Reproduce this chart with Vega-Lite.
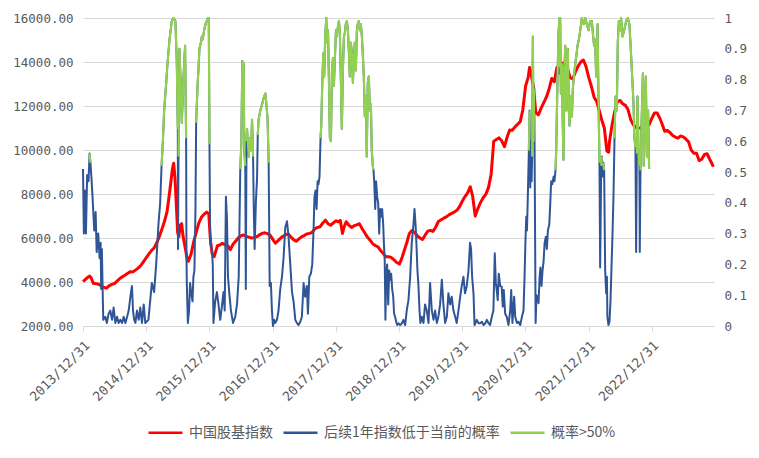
{
"$schema":"https://vega.github.io/schema/vega-lite/v6.json",
"width":631,"height":308,
"autosize":{"type":"none"},
"padding":{"left":83,"top":18,"right":45,"bottom":132},
"background":"white",
"config":{"view":{"stroke":null},"font":"DejaVu Sans"},
"datasets":{
"idx":[
{"d":"2013-12-31","v":4016},{"d":"2014-01-16","v":4130},{"d":"2014-02-01","v":4240},{"d":"2014-02-08","v":4270},{"d":"2014-02-16","v":4190},{"d":"2014-03-01","v":3940},{"d":"2014-03-16","v":3925},{"d":"2014-04-01","v":3900},{"d":"2014-04-16","v":3820},{"d":"2014-05-01","v":3750},{"d":"2014-05-16","v":3720},{"d":"2014-06-01","v":3835},{"d":"2014-06-16","v":3890},{"d":"2014-07-01","v":3930},{"d":"2014-07-16","v":4040},{"d":"2014-08-01","v":4160},{"d":"2014-08-16","v":4240},{"d":"2014-09-01","v":4320},{"d":"2014-09-16","v":4400},{"d":"2014-10-01","v":4470},{"d":"2014-10-16","v":4460},{"d":"2014-11-01","v":4550},{"d":"2014-11-16","v":4640},{"d":"2014-12-01","v":4760},{"d":"2014-12-16","v":4930},
{"d":"2015-01-01","v":5110},{"d":"2015-01-16","v":5280},{"d":"2015-02-01","v":5440},{"d":"2015-02-16","v":5560},{"d":"2015-03-01","v":5760},{"d":"2015-03-16","v":6040},{"d":"2015-04-01","v":6400},{"d":"2015-04-16","v":6760},{"d":"2015-05-01","v":7210},{"d":"2015-05-16","v":8100},{"d":"2015-06-01","v":9150},{"d":"2015-06-08","v":9400},{"d":"2015-06-16","v":8700},{"d":"2015-06-24","v":7400},{"d":"2015-07-01","v":6250},{"d":"2015-07-08","v":6050},{"d":"2015-07-16","v":6580},{"d":"2015-07-24","v":6650},{"d":"2015-08-01","v":6100},{"d":"2015-08-16","v":5450},{"d":"2015-08-26","v":5000},{"d":"2015-09-01","v":4950},{"d":"2015-09-16","v":5250},{"d":"2015-10-01","v":5800},{"d":"2015-10-16","v":6250},{"d":"2015-11-01","v":6700},{"d":"2015-11-16","v":6950},{"d":"2015-12-01","v":7080},{"d":"2015-12-16","v":7180},{"d":"2015-12-28","v":7100},
{"d":"2016-01-04","v":6200},{"d":"2016-01-08","v":5800},{"d":"2016-01-16","v":5300},{"d":"2016-01-28","v":5150},{"d":"2016-02-16","v":5650},{"d":"2016-03-01","v":5680},{"d":"2016-03-16","v":5760},{"d":"2016-04-01","v":5680},{"d":"2016-04-16","v":5650},{"d":"2016-05-01","v":5470},{"d":"2016-05-16","v":5720},{"d":"2016-06-01","v":5860},{"d":"2016-06-16","v":6010},{"d":"2016-07-01","v":6100},{"d":"2016-07-16","v":6135},{"d":"2016-08-01","v":6070},{"d":"2016-08-16","v":6040},{"d":"2016-09-01","v":5995},{"d":"2016-09-16","v":6020},{"d":"2016-10-01","v":6060},{"d":"2016-10-16","v":6145},{"d":"2016-11-01","v":6210},{"d":"2016-11-16","v":6235},{"d":"2016-12-01","v":6200},{"d":"2016-12-16","v":6130},
{"d":"2017-01-01","v":5940},{"d":"2017-01-16","v":5760},{"d":"2017-02-01","v":5880},{"d":"2017-02-16","v":6000},{"d":"2017-03-01","v":6080},{"d":"2017-03-16","v":6150},{"d":"2017-04-01","v":6180},{"d":"2017-04-16","v":6040},{"d":"2017-05-01","v":5925},{"d":"2017-05-16","v":5850},{"d":"2017-06-01","v":5960},{"d":"2017-06-16","v":6050},{"d":"2017-07-01","v":6110},{"d":"2017-07-16","v":6180},{"d":"2017-08-01","v":6210},{"d":"2017-08-16","v":6250},{"d":"2017-09-01","v":6420},{"d":"2017-09-16","v":6480},{"d":"2017-10-01","v":6510},{"d":"2017-10-16","v":6670},{"d":"2017-11-01","v":6810},{"d":"2017-11-16","v":6650},{"d":"2017-12-01","v":6580},{"d":"2017-12-16","v":6680},
{"d":"2018-01-01","v":6780},{"d":"2018-01-16","v":6740},{"d":"2018-01-26","v":6800},{"d":"2018-02-08","v":6210},{"d":"2018-02-16","v":6480},{"d":"2018-03-01","v":6740},{"d":"2018-03-16","v":6590},{"d":"2018-04-01","v":6480},{"d":"2018-04-16","v":6555},{"d":"2018-05-01","v":6595},{"d":"2018-05-16","v":6650},{"d":"2018-06-01","v":6430},{"d":"2018-06-16","v":6240},{"d":"2018-07-01","v":6050},{"d":"2018-07-16","v":5910},{"d":"2018-08-01","v":5740},{"d":"2018-08-16","v":5660},{"d":"2018-09-01","v":5600},{"d":"2018-09-16","v":5430},{"d":"2018-10-01","v":5300},{"d":"2018-10-16","v":5150},{"d":"2018-11-01","v":5150},{"d":"2018-11-16","v":5120},{"d":"2018-12-01","v":5020},{"d":"2018-12-16","v":4900},
{"d":"2019-01-03","v":4820},{"d":"2019-01-16","v":5060},{"d":"2019-02-01","v":5460},{"d":"2019-02-16","v":5830},{"d":"2019-03-01","v":6200},{"d":"2019-03-16","v":6340},{"d":"2019-04-01","v":6250},{"d":"2019-04-16","v":6100},{"d":"2019-05-01","v":6000},{"d":"2019-05-16","v":5930},{"d":"2019-06-01","v":6140},{"d":"2019-06-16","v":6310},{"d":"2019-07-01","v":6350},{"d":"2019-07-16","v":6300},{"d":"2019-08-01","v":6500},{"d":"2019-08-16","v":6750},{"d":"2019-09-01","v":6830},{"d":"2019-09-16","v":6900},{"d":"2019-10-01","v":6960},{"d":"2019-10-16","v":7050},{"d":"2019-11-01","v":7120},{"d":"2019-11-16","v":7180},{"d":"2019-12-01","v":7260},{"d":"2019-12-16","v":7420},
{"d":"2020-01-01","v":7670},{"d":"2020-01-16","v":7870},{"d":"2020-02-01","v":8050},{"d":"2020-02-16","v":8330},{"d":"2020-03-01","v":7900},{"d":"2020-03-16","v":7000},{"d":"2020-04-01","v":7350},{"d":"2020-04-16","v":7620},{"d":"2020-05-01","v":7830},{"d":"2020-05-16","v":7980},{"d":"2020-06-01","v":8300},{"d":"2020-06-16","v":8900},{"d":"2020-07-01","v":10400},{"d":"2020-07-16","v":10480},{"d":"2020-08-01","v":10550},{"d":"2020-08-16","v":10420},{"d":"2020-09-01","v":10150},{"d":"2020-09-16","v":10580},{"d":"2020-10-01","v":10910},{"d":"2020-10-16","v":10900},{"d":"2020-11-01","v":11050},{"d":"2020-11-16","v":11170},{"d":"2020-12-01","v":11290},{"d":"2020-12-16","v":11820},
{"d":"2021-01-01","v":12900},{"d":"2021-01-16","v":13300},{"d":"2021-01-24","v":13750},{"d":"2021-02-01","v":13500},{"d":"2021-02-16","v":12850},{"d":"2021-03-01","v":11700},{"d":"2021-03-16","v":11600},{"d":"2021-04-01","v":11900},{"d":"2021-04-16","v":12150},{"d":"2021-05-01","v":12400},{"d":"2021-05-16","v":12750},{"d":"2021-06-01","v":13250},{"d":"2021-06-16","v":13100},{"d":"2021-07-01","v":13750},{"d":"2021-07-16","v":13500},{"d":"2021-08-01","v":13940},{"d":"2021-08-16","v":13940},{"d":"2021-09-01","v":13660},{"d":"2021-09-16","v":13280},{"d":"2021-10-01","v":13240},{"d":"2021-10-16","v":13550},{"d":"2021-11-01","v":13820},{"d":"2021-11-16","v":14000},{"d":"2021-12-01","v":14090},{"d":"2021-12-16","v":13800},
{"d":"2022-01-01","v":13300},{"d":"2022-01-16","v":12900},{"d":"2022-02-01","v":12400},{"d":"2022-02-16","v":12200},{"d":"2022-03-01","v":11850},{"d":"2022-03-16","v":11400},{"d":"2022-04-01","v":11000},{"d":"2022-04-16","v":9950},{"d":"2022-04-26","v":9900},{"d":"2022-05-01","v":10380},{"d":"2022-05-16","v":11150},{"d":"2022-06-01","v":11780},{"d":"2022-06-16","v":12200},{"d":"2022-07-01","v":12250},{"d":"2022-07-16","v":12100},{"d":"2022-08-01","v":12030},{"d":"2022-08-16","v":11840},{"d":"2022-09-01","v":11370},{"d":"2022-09-16","v":11140},{"d":"2022-10-01","v":11020},{"d":"2022-10-16","v":11000},{"d":"2022-11-01","v":11000},{"d":"2022-11-16","v":10930},{"d":"2022-12-01","v":11050},{"d":"2022-12-16","v":11150},
{"d":"2023-01-01","v":11450},{"d":"2023-01-16","v":11680},{"d":"2023-02-01","v":11680},{"d":"2023-02-16","v":11440},{"d":"2023-03-01","v":11180},{"d":"2023-03-16","v":10850},{"d":"2023-04-01","v":10890},{"d":"2023-04-16","v":10790},{"d":"2023-05-01","v":10660},{"d":"2023-05-16","v":10590},{"d":"2023-06-01","v":10540},{"d":"2023-06-16","v":10640},{"d":"2023-07-01","v":10600},{"d":"2023-07-16","v":10500},{"d":"2023-08-01","v":10370},{"d":"2023-08-16","v":10000},{"d":"2023-09-01","v":9850},{"d":"2023-09-16","v":9850},{"d":"2023-10-01","v":9520},{"d":"2023-10-16","v":9580},{"d":"2023-11-01","v":9800},{"d":"2023-11-16","v":9830},{"d":"2023-12-01","v":9580},{"d":"2023-12-16","v":9350},{"d":"2023-12-22","v":9240}
],
"prob":[
{"d":"2013-12-31","p":0.51,"g":0.51},{"d":"2014-01-05","p":0.30},{"d":"2014-01-11","p":0.44},{"d":"2014-01-17","p":0.30},{"d":"2014-01-24","p":0.49},{"d":"2014-02-01","p":0.47},{"d":"2014-02-07","p":0.56,"g":0.56},{"d":"2014-02-12","p":0.53,"g":0.53},{"d":"2014-02-18","p":0.48},{"d":"2014-02-24","p":0.42},{"d":"2014-03-06","p":0.31},{"d":"2014-03-14","p":0.37},{"d":"2014-03-20","p":0.24},{"d":"2014-03-29","p":0.30},{"d":"2014-04-06","p":0.22},{"d":"2014-04-12","p":0.27},{"d":"2014-04-15","p":0.12},{"d":"2014-04-19","p":0.25},{"d":"2014-04-27","p":0.02},{"d":"2014-05-09","p":0.03},{"d":"2014-05-18","p":0.01},{"d":"2014-05-28","p":0.04},{"d":"2014-06-07","p":0.05},{"d":"2014-06-17","p":0.02},{"d":"2014-06-26","p":0.06},{"d":"2014-07-06","p":0.01},{"d":"2014-07-16","p":0.03},{"d":"2014-07-25","p":0.01},{"d":"2014-08-04","p":0.02},{"d":"2014-08-14","p":0.01},{"d":"2014-08-23","p":0.03},{"d":"2014-09-02","p":0.01},{"d":"2014-09-12","p":0.03},{"d":"2014-09-21","p":0.05},{"d":"2014-10-01","p":0.095},{"d":"2014-10-10","p":0.13},{"d":"2014-10-16","p":0.05},{"d":"2014-10-23","p":0.02},{"d":"2014-10-30","p":0.01},{"d":"2014-11-08","p":0.05},{"d":"2014-11-18","p":0.02},{"d":"2014-11-27","p":0.06},{"d":"2014-12-07","p":0.01},{"d":"2014-12-17","p":0.07},{"d":"2014-12-26","p":0.01},
{"d":"2015-01-13","p":0.02},{"d":"2015-01-23","p":0.08},{"d":"2015-02-02","p":0.14},{"d":"2015-02-15","p":0.11},{"d":"2015-02-27","p":0.20},{"d":"2015-03-12","p":0.33},{"d":"2015-03-22","p":0.40},{"d":"2015-03-30","p":0.52,"g":0.52},{"d":"2015-04-06","p":0.59,"g":0.59},{"d":"2015-04-14","p":0.70,"g":0.70},{"d":"2015-04-26","p":0.79,"g":0.79},{"d":"2015-05-03","p":0.85,"g":0.85},{"d":"2015-05-15","p":0.93,"g":0.93},{"d":"2015-05-28","p":0.99,"g":0.99},{"d":"2015-06-07","p":1.0,"g":1.0},{"d":"2015-06-18","p":0.99,"g":0.99},{"d":"2015-06-26","p":0.86,"g":0.86},{"d":"2015-07-02","p":0.64,"g":0.64},{"d":"2015-07-03","p":0.25},{"d":"2015-07-06","p":0.55,"g":0.55},{"d":"2015-07-12","p":0.90,"g":0.90},{"d":"2015-07-25","p":0.66,"g":0.66},{"d":"2015-08-04","p":0.81,"g":0.81},{"d":"2015-08-13","p":0.91,"g":0.91},{"d":"2015-08-19","p":0.61,"g":0.61},{"d":"2015-08-21","p":0.23},{"d":"2015-08-23","p":0.14},{"d":"2015-08-29","p":0.01},{"d":"2015-09-05","p":0.05},{"d":"2015-09-11","p":0.14},{"d":"2015-09-17","p":0.11},{"d":"2015-09-25","p":0.08},{"d":"2015-09-30","p":0.16},{"d":"2015-10-06","p":0.18},{"d":"2015-10-12","p":0.38},{"d":"2015-10-16","p":0.66,"g":0.66},{"d":"2015-10-24","p":0.78,"g":0.78},{"d":"2015-10-29","p":0.83,"g":0.83},{"d":"2015-11-04","p":0.90,"g":0.90},{"d":"2015-11-12","p":0.92,"g":0.92},{"d":"2015-11-18","p":0.94,"g":0.94},{"d":"2015-11-23","p":0.93,"g":0.93},{"d":"2015-12-01","p":0.96,"g":0.96},{"d":"2015-12-09","p":0.98,"g":0.98},{"d":"2015-12-16","p":0.99,"g":0.99},{"d":"2015-12-24","p":1.0,"g":1.0},{"d":"2015-12-28","p":1.0,"g":1.0},
{"d":"2016-01-01","p":0.59,"g":0.59},{"d":"2016-01-05","p":0.27},{"d":"2016-01-14","p":0.25},{"d":"2016-01-20","p":0.20},{"d":"2016-01-24","p":0.01},{"d":"2016-02-03","p":0.08},{"d":"2016-02-13","p":0.11},{"d":"2016-02-22","p":0.07},{"d":"2016-03-03","p":0.02},{"d":"2016-03-12","p":0.06},{"d":"2016-03-22","p":0.11},{"d":"2016-03-29","p":0.05},{"d":"2016-04-05","p":0.42},{"d":"2016-04-11","p":0.35},{"d":"2016-04-17","p":0.16},{"d":"2016-04-24","p":0.11},{"d":"2016-05-04","p":0.05},{"d":"2016-05-16","p":0.01},{"d":"2016-05-29","p":0.03},{"d":"2016-06-08","p":0.07},{"d":"2016-06-18","p":0.16},{"d":"2016-06-23","p":0.35},{"d":"2016-06-27","p":0.51,"g":0.51},{"d":"2016-07-03","p":0.59,"g":0.59},{"d":"2016-07-09","p":0.86,"g":0.86},{"d":"2016-07-17","p":0.85,"g":0.85},{"d":"2016-07-20","p":0.57,"g":0.57},{"d":"2016-07-26","p":0.52,"g":0.52},{"d":"2016-07-29","p":0.12},{"d":"2016-08-02","p":0.60,"g":0.60},{"d":"2016-08-05","p":0.64,"g":0.64},{"d":"2016-08-15","p":0.55,"g":0.55},{"d":"2016-08-20","p":0.61,"g":0.61},{"d":"2016-08-28","p":0.57,"g":0.57},{"d":"2016-09-03","p":0.67,"g":0.67},{"d":"2016-09-09","p":0.55,"g":0.55},{"d":"2016-09-13","p":0.38},{"d":"2016-09-18","p":0.25},{"d":"2016-09-25","p":0.40},{"d":"2016-10-02","p":0.48},{"d":"2016-10-06","p":0.62,"g":0.62},{"d":"2016-10-11","p":0.67,"g":0.67},{"d":"2016-10-21","p":0.70,"g":0.70},{"d":"2016-10-31","p":0.72,"g":0.72},{"d":"2016-11-09","p":0.74,"g":0.74},{"d":"2016-11-19","p":0.755,"g":0.755},{"d":"2016-11-25","p":0.72,"g":0.72},{"d":"2016-12-02","p":0.67,"g":0.67},{"d":"2016-12-08","p":0.53,"g":0.53},{"d":"2016-12-14","p":0.13},{"d":"2016-12-21","p":0.14},{"d":"2016-12-27","p":0.05},
{"d":"2017-01-02","p":0.0},{"d":"2017-01-09","p":0.02},{"d":"2017-01-15","p":0.01},{"d":"2017-01-25","p":0.02},{"d":"2017-02-03","p":0.05},{"d":"2017-02-13","p":0.12},{"d":"2017-02-23","p":0.16},{"d":"2017-03-04","p":0.22},{"d":"2017-03-14","p":0.32},{"d":"2017-03-24","p":0.34},{"d":"2017-04-02","p":0.29},{"d":"2017-04-12","p":0.20},{"d":"2017-04-22","p":0.11},{"d":"2017-05-01","p":0.08},{"d":"2017-05-11","p":0.02},{"d":"2017-05-20","p":0.01},{"d":"2017-05-30","p":0.003},{"d":"2017-06-09","p":0.014},{"d":"2017-06-18","p":0.03},{"d":"2017-06-28","p":0.14},{"d":"2017-07-07","p":0.095},{"d":"2017-07-17","p":0.13},{"d":"2017-07-23","p":0.04},{"d":"2017-07-31","p":0.16},{"d":"2017-08-09","p":0.17},{"d":"2017-08-17","p":0.20},{"d":"2017-08-25","p":0.32},{"d":"2017-08-30","p":0.42},{"d":"2017-09-05","p":0.44},{"d":"2017-09-11","p":0.38},{"d":"2017-09-17","p":0.47},{"d":"2017-09-22","p":0.46},{"d":"2017-09-28","p":0.485},{"d":"2017-10-04","p":0.61,"g":0.61},{"d":"2017-10-08","p":0.65,"g":0.65},{"d":"2017-10-14","p":0.79,"g":0.79},{"d":"2017-10-20","p":0.885,"g":0.885},{"d":"2017-10-25","p":0.81,"g":0.81},{"d":"2017-10-31","p":0.94,"g":0.94},{"d":"2017-11-06","p":1.0,"g":1.0},{"d":"2017-11-10","p":0.92,"g":0.92},{"d":"2017-11-16","p":0.96,"g":0.96},{"d":"2017-11-21","p":0.81,"g":0.81},{"d":"2017-11-27","p":0.61,"g":0.61},{"d":"2017-12-03","p":0.60,"g":0.60},{"d":"2017-12-09","p":0.83,"g":0.83},{"d":"2017-12-15","p":0.87,"g":0.87},{"d":"2017-12-20","p":0.78,"g":0.78},{"d":"2017-12-26","p":0.87,"g":0.87},
{"d":"2018-01-01","p":0.96,"g":0.96},{"d":"2018-01-06","p":0.94,"g":0.94},{"d":"2018-01-12","p":0.97,"g":0.97},{"d":"2018-01-18","p":0.99,"g":0.99},{"d":"2018-01-23","p":0.96,"g":0.96},{"d":"2018-01-29","p":0.81,"g":0.81},{"d":"2018-02-04","p":0.64,"g":0.64},{"d":"2018-02-10","p":0.83,"g":0.83},{"d":"2018-02-16","p":0.94,"g":0.94},{"d":"2018-02-21","p":0.95,"g":0.95},{"d":"2018-02-27","p":0.98,"g":0.98},{"d":"2018-03-05","p":0.99,"g":0.99},{"d":"2018-03-11","p":0.96,"g":0.96},{"d":"2018-03-16","p":0.90,"g":0.90},{"d":"2018-03-22","p":0.81,"g":0.81},{"d":"2018-03-28","p":0.92,"g":0.92},{"d":"2018-04-03","p":0.885,"g":0.885},{"d":"2018-04-09","p":0.79,"g":0.79},{"d":"2018-04-14","p":0.86,"g":0.86},{"d":"2018-04-20","p":0.92,"g":0.92},{"d":"2018-04-26","p":0.83,"g":0.83},{"d":"2018-05-02","p":0.96,"g":0.96},{"d":"2018-05-07","p":0.98,"g":0.98},{"d":"2018-05-13","p":0.99,"g":0.99},{"d":"2018-05-19","p":0.96,"g":0.96},{"d":"2018-05-25","p":0.98,"g":0.98},{"d":"2018-05-31","p":0.94,"g":0.94},{"d":"2018-06-05","p":0.885,"g":0.885},{"d":"2018-06-11","p":0.81,"g":0.81},{"d":"2018-06-17","p":0.68,"g":0.68},{"d":"2018-06-23","p":0.745,"g":0.745},{"d":"2018-06-28","p":0.55,"g":0.55},{"d":"2018-07-04","p":0.79,"g":0.79},{"d":"2018-07-10","p":0.81,"g":0.81},{"d":"2018-07-16","p":0.70,"g":0.70},{"d":"2018-07-22","p":0.72,"g":0.72},{"d":"2018-07-27","p":0.57,"g":0.57},{"d":"2018-08-02","p":0.52,"g":0.52},{"d":"2018-08-06","p":0.506,"g":0.506},{"d":"2018-08-10","p":0.47},{"d":"2018-08-16","p":0.38},{"d":"2018-08-21","p":0.47},{"d":"2018-08-27","p":0.42},{"d":"2018-09-02","p":0.40},{"d":"2018-09-08","p":0.30},{"d":"2018-09-13","p":0.38},{"d":"2018-09-19","p":0.355},{"d":"2018-09-25","p":0.38},{"d":"2018-10-01","p":0.33},{"d":"2018-10-05","p":0.27},{"d":"2018-10-10","p":0.21},{"d":"2018-10-14","p":0.02},{"d":"2018-10-18","p":0.16},{"d":"2018-10-24","p":0.20},{"d":"2018-10-30","p":0.07},{"d":"2018-11-05","p":0.18},{"d":"2018-11-10","p":0.15},{"d":"2018-11-16","p":0.17},{"d":"2018-11-22","p":0.12},{"d":"2018-11-28","p":0.095},{"d":"2018-12-03","p":0.04},{"d":"2018-12-09","p":0.03},{"d":"2018-12-15","p":0.014},{"d":"2018-12-21","p":0.003},{"d":"2018-12-28","p":0.009},
{"d":"2019-01-07","p":0.003},{"d":"2019-01-17","p":0.009},{"d":"2019-01-26","p":0.02},{"d":"2019-02-05","p":0.003},{"d":"2019-02-14","p":0.05},{"d":"2019-02-24","p":0.084},{"d":"2019-03-06","p":0.16},{"d":"2019-03-15","p":0.27},{"d":"2019-03-25","p":0.33},{"d":"2019-03-31","p":0.38},{"d":"2019-04-06","p":0.33},{"d":"2019-04-11","p":0.27},{"d":"2019-04-17","p":0.18},{"d":"2019-04-23","p":0.13},{"d":"2019-04-29","p":0.05},{"d":"2019-05-04","p":0.01},{"d":"2019-05-12","p":0.03},{"d":"2019-05-22","p":0.01},{"d":"2019-05-31","p":0.07},{"d":"2019-06-10","p":0.05},{"d":"2019-06-20","p":0.01},{"d":"2019-06-29","p":0.14},{"d":"2019-07-09","p":0.05},{"d":"2019-07-19","p":0.02},{"d":"2019-07-28","p":0.05},{"d":"2019-08-07","p":0.01},{"d":"2019-08-16","p":0.03},{"d":"2019-08-26","p":0.07},{"d":"2019-09-05","p":0.15},{"d":"2019-09-14","p":0.07},{"d":"2019-09-24","p":0.01},{"d":"2019-10-04","p":0.03},{"d":"2019-10-13","p":0.106},{"d":"2019-10-23","p":0.07},{"d":"2019-11-01","p":0.095},{"d":"2019-11-11","p":0.05},{"d":"2019-11-21","p":0.03},{"d":"2019-11-30","p":0.01},{"d":"2019-12-10","p":0.05},{"d":"2019-12-20","p":0.095},{"d":"2019-12-29","p":0.13},
{"d":"2020-01-08","p":0.16},{"d":"2020-01-17","p":0.106},{"d":"2020-01-27","p":0.13},{"d":"2020-02-06","p":0.18},{"d":"2020-02-15","p":0.27},{"d":"2020-02-21","p":0.25},{"d":"2020-02-27","p":0.16},{"d":"2020-03-06","p":0.106},{"d":"2020-03-12","p":0.003},{"d":"2020-03-17","p":0.009},{"d":"2020-03-25","p":0.02},{"d":"2020-04-04","p":0.009},{"d":"2020-04-13","p":0.009},{"d":"2020-04-23","p":0.014},{"d":"2020-05-03","p":0.003},{"d":"2020-05-13","p":0.009},{"d":"2020-05-22","p":0.02},{"d":"2020-06-01","p":0.009},{"d":"2020-06-10","p":0.003},{"d":"2020-06-20","p":0.03},{"d":"2020-06-29","p":0.05},{"d":"2020-07-07","p":0.236},{"d":"2020-07-13","p":0.14},{"d":"2020-07-18","p":0.117},{"d":"2020-07-24","p":0.084},{"d":"2020-07-30","p":0.17},{"d":"2020-08-07","p":0.13},{"d":"2020-08-16","p":0.128},{"d":"2020-08-22","p":0.063},{"d":"2020-08-28","p":0.117},{"d":"2020-09-05","p":0.04},{"d":"2020-09-14","p":0.03},{"d":"2020-09-24","p":0.003},{"d":"2020-10-04","p":0.05},{"d":"2020-10-10","p":0.117},{"d":"2020-10-17","p":0.01},{"d":"2020-10-27","p":0.095},{"d":"2020-11-02","p":0.03},{"d":"2020-11-12","p":0.01},{"d":"2020-11-21","p":0.014},{"d":"2020-12-01","p":0.003},{"d":"2020-12-11","p":0.03},{"d":"2020-12-20","p":0.05},{"d":"2020-12-26","p":0.16},
{"d":"2021-01-01","p":0.29},{"d":"2021-01-05","p":0.355},{"d":"2021-01-09","p":0.31},{"d":"2021-01-14","p":0.42},{"d":"2021-01-20","p":0.57,"g":0.57},{"d":"2021-01-24","p":0.70,"g":0.70},{"d":"2021-01-28","p":0.45},{"d":"2021-02-01","p":0.60,"g":0.60},{"d":"2021-02-05","p":0.47},{"d":"2021-02-08","p":0.55,"g":0.55},{"d":"2021-02-12","p":0.94,"g":0.94},{"d":"2021-02-16","p":0.60,"g":0.60},{"d":"2021-02-20","p":0.77,"g":0.77},{"d":"2021-02-28","p":0.01},{"d":"2021-03-05","p":0.10},{"d":"2021-03-11","p":0.095},{"d":"2021-03-17","p":0.074},{"d":"2021-03-23","p":0.16},{"d":"2021-03-28","p":0.19},{"d":"2021-04-03","p":0.13},{"d":"2021-04-09","p":0.18},{"d":"2021-04-15","p":0.21},{"d":"2021-04-21","p":0.27},{"d":"2021-04-28","p":0.29},{"d":"2021-05-04","p":0.25},{"d":"2021-05-10","p":0.31},{"d":"2021-05-18","p":0.33},{"d":"2021-05-23","p":0.39},{"d":"2021-05-29","p":0.47},{"d":"2021-06-04","p":0.46},{"d":"2021-06-12","p":0.485},{"d":"2021-06-17","p":0.47},{"d":"2021-06-23","p":0.506,"g":0.506},{"d":"2021-06-27","p":0.57,"g":0.57},{"d":"2021-07-01","p":0.70,"g":0.70},{"d":"2021-07-05","p":0.81,"g":0.81},{"d":"2021-07-10","p":0.95,"g":0.95},{"d":"2021-07-16","p":1.0,"g":1.0},{"d":"2021-07-20","p":1.0,"g":1.0},{"d":"2021-07-24","p":0.755,"g":0.755},{"d":"2021-07-30","p":0.85,"g":0.85},{"d":"2021-08-04","p":0.65,"g":0.65},{"d":"2021-08-08","p":0.54,"g":0.54},{"d":"2021-08-12","p":0.81,"g":0.81},{"d":"2021-08-18","p":0.91,"g":0.91},{"d":"2021-08-24","p":0.70,"g":0.70},{"d":"2021-08-28","p":0.81,"g":0.81},{"d":"2021-09-02","p":0.90,"g":0.90},{"d":"2021-09-08","p":0.70,"g":0.70},{"d":"2021-09-12","p":0.65,"g":0.65},{"d":"2021-09-16","p":0.745,"g":0.745},{"d":"2021-09-22","p":0.70,"g":0.70},{"d":"2021-09-26","p":0.68,"g":0.68},{"d":"2021-10-01","p":0.77,"g":0.77},{"d":"2021-10-09","p":0.82,"g":0.82},{"d":"2021-10-15","p":0.85,"g":0.85},{"d":"2021-10-21","p":0.875,"g":0.875},{"d":"2021-10-28","p":0.91,"g":0.91},{"d":"2021-11-05","p":0.93,"g":0.93},{"d":"2021-11-13","p":0.96,"g":0.96},{"d":"2021-11-22","p":1.0,"g":1.0},{"d":"2021-12-02","p":0.98,"g":0.98},{"d":"2021-12-12","p":1.0,"g":1.0},{"d":"2021-12-21","p":0.98,"g":0.98},{"d":"2021-12-31","p":0.96,"g":0.96},
{"d":"2022-01-09","p":0.99,"g":0.99},{"d":"2022-01-19","p":0.99,"g":0.99},{"d":"2022-01-25","p":0.95,"g":0.95},{"d":"2022-02-01","p":0.91,"g":0.91},{"d":"2022-02-07","p":0.93,"g":0.93},{"d":"2022-02-13","p":0.81,"g":0.81},{"d":"2022-02-17","p":0.885,"g":0.885},{"d":"2022-02-21","p":0.98,"g":0.98},{"d":"2022-02-26","p":0.755,"g":0.755},{"d":"2022-03-04","p":0.53,"g":0.53},{"d":"2022-03-08","p":0.19},{"d":"2022-03-14","p":0.52,"g":0.52},{"d":"2022-03-18","p":0.55,"g":0.55},{"d":"2022-03-22","p":0.485},{"d":"2022-03-27","p":0.53,"g":0.53},{"d":"2022-03-31","p":0.506,"g":0.506},{"d":"2022-04-06","p":0.18},{"d":"2022-04-12","p":0.106},{"d":"2022-04-16","p":0.16},{"d":"2022-04-19","p":0.03},{"d":"2022-04-25","p":0.003},{"d":"2022-05-01","p":0.014},{"d":"2022-05-07","p":0.084},{"d":"2022-05-13","p":0.20},{"d":"2022-05-18","p":0.29},{"d":"2022-05-24","p":0.42},{"d":"2022-05-30","p":0.61,"g":0.61},{"d":"2022-06-05","p":0.745,"g":0.745},{"d":"2022-06-12","p":0.70,"g":0.70},{"d":"2022-06-18","p":0.92,"g":0.92},{"d":"2022-06-24","p":0.99,"g":0.99},{"d":"2022-07-02","p":0.96,"g":0.96},{"d":"2022-07-07","p":1.0,"g":1.0},{"d":"2022-07-15","p":0.94,"g":0.94},{"d":"2022-07-25","p":0.96,"g":0.96},{"d":"2022-08-05","p":0.99,"g":0.99},{"d":"2022-08-15","p":1.0,"g":1.0},{"d":"2022-08-24","p":0.98,"g":0.98},{"d":"2022-09-01","p":0.90,"g":0.90},{"d":"2022-09-09","p":0.81,"g":0.81},{"d":"2022-09-17","p":0.72,"g":0.72},{"d":"2022-09-22","p":0.61,"g":0.61},{"d":"2022-09-28","p":0.58,"g":0.58},{"d":"2022-10-02","p":0.24},{"d":"2022-10-06","p":0.56,"g":0.56},{"d":"2022-10-10","p":0.745,"g":0.745},{"d":"2022-10-16","p":0.55,"g":0.55},{"d":"2022-10-21","p":0.52,"g":0.52},{"d":"2022-10-23","p":0.24},{"d":"2022-10-27","p":0.506,"g":0.506},{"d":"2022-11-02","p":0.65,"g":0.65},{"d":"2022-11-10","p":0.82,"g":0.82},{"d":"2022-11-15","p":0.52,"g":0.52},{"d":"2022-11-21","p":0.70,"g":0.70},{"d":"2022-11-27","p":0.81,"g":0.81},{"d":"2022-12-03","p":0.55,"g":0.55},{"d":"2022-12-10","p":0.70,"g":0.70},{"d":"2022-12-16","p":0.51,"g":0.51}
]
},
"layer":[
{"data":{"name":"idx"},
 "mark":{"type":"line","strokeWidth":3,"strokeJoin":"round"},
 "encoding":{
  "x":{"field":"d","type":"temporal","scale":{"type":"utc","domain":[{"year":2013,"month":12,"date":31,"utc":true},{"year":2023,"month":12,"date":26,"utc":true}]},
   "axis":{"title":null,"values":[{"year":2013,"month":12,"date":31,"utc":true},{"year":2014,"month":12,"date":31,"utc":true},{"year":2015,"month":12,"date":31,"utc":true},{"year":2016,"month":12,"date":31,"utc":true},{"year":2017,"month":12,"date":31,"utc":true},{"year":2018,"month":12,"date":31,"utc":true},{"year":2019,"month":12,"date":31,"utc":true},{"year":2020,"month":12,"date":31,"utc":true},{"year":2021,"month":12,"date":31,"utc":true},{"year":2022,"month":12,"date":31,"utc":true}],
   "format":"%Y/%m/%d","labelAngle":-45,"labelFont":"DejaVu Sans Mono","labelFontSize":13,"labelColor":"#595959","labelFlush":false,"labelOverlap":false,"labelPadding":8,"grid":false,"domainColor":"#D9D9D9","tickColor":"#D9D9D9","tickSize":5}},
  "y":{"field":"v","type":"quantitative","scale":{"domain":[2000,16000],"nice":false,"zero":false},
   "axis":{"title":null,"values":[2000,4000,6000,8000,10000,12000,14000,16000],"format":".2f","grid":true,"gridColor":"#D9D9D9","domain":false,"ticks":false,"labelFont":"DejaVu Sans Mono","labelFontSize":12.5,"labelColor":"#595959","labelPadding":10}},
  "color":{"datum":"中国股基指数","type":"nominal","scale":{"domain":["中国股基指数","后续1年指数低于当前的概率","概率>50%"],"range":["#FF0000","#2F5597","#92D050"]},
   "legend":{"title":null,"orient":"none","legendX":64,"legendY":396,"direction":"horizontal","symbolType":"stroke","symbolSize":1156,"symbolStrokeWidth":2.5,"labelFont":"Noto Sans CJK SC","labelFontSize":14,"labelColor":"#595959","labelOffset":5,"labelLimit":0,"columnPadding":5,"padding":0}}
 }},
{"data":{"name":"prob"},
 "layer":[
  {"mark":{"type":"line","strokeWidth":2,"strokeJoin":"round"},
   "encoding":{
    "x":{"field":"d","type":"temporal","scale":{"type":"utc","domain":[{"year":2013,"month":12,"date":31,"utc":true},{"year":2023,"month":12,"date":26,"utc":true}]},
     "axis":{"title":null,"values":[{"year":2013,"month":12,"date":31,"utc":true},{"year":2014,"month":12,"date":31,"utc":true},{"year":2015,"month":12,"date":31,"utc":true},{"year":2016,"month":12,"date":31,"utc":true},{"year":2017,"month":12,"date":31,"utc":true},{"year":2018,"month":12,"date":31,"utc":true},{"year":2019,"month":12,"date":31,"utc":true},{"year":2020,"month":12,"date":31,"utc":true},{"year":2021,"month":12,"date":31,"utc":true},{"year":2022,"month":12,"date":31,"utc":true}],
     "format":"%Y/%m/%d","labelAngle":-45,"labelFont":"DejaVu Sans Mono","labelFontSize":13,"labelColor":"#595959","labelFlush":false,"labelOverlap":false,"labelPadding":8,"grid":false,"domainColor":"#D9D9D9","tickColor":"#D9D9D9","tickSize":5}},
    "y":{"field":"p","type":"quantitative","scale":{"domain":[0,1],"nice":false},
     "axis":{"orient":"right","title":null,"values":[0,0.1,0.2,0.3,0.4,0.5,0.6,0.7,0.8,0.9,1],"format":".1~f","grid":false,"domain":false,"ticks":false,"labelFont":"DejaVu Sans Mono","labelFontSize":12.5,"labelColor":"#595959","labelPadding":10}},
    "color":{"datum":"后续1年指数低于当前的概率","type":"nominal","scale":{"domain":["中国股基指数","后续1年指数低于当前的概率","概率>50%"],"range":["#FF0000","#2F5597","#92D050"]}}
   }},
  {"mark":{"type":"line","strokeWidth":2.2,"strokeJoin":"round","invalid":"break-paths-filter-domains"},
   "encoding":{
    "x":{"field":"d","type":"temporal","scale":{"type":"utc","domain":[{"year":2013,"month":12,"date":31,"utc":true},{"year":2023,"month":12,"date":26,"utc":true}]},
     "axis":{"title":null,"values":[{"year":2013,"month":12,"date":31,"utc":true},{"year":2014,"month":12,"date":31,"utc":true},{"year":2015,"month":12,"date":31,"utc":true},{"year":2016,"month":12,"date":31,"utc":true},{"year":2017,"month":12,"date":31,"utc":true},{"year":2018,"month":12,"date":31,"utc":true},{"year":2019,"month":12,"date":31,"utc":true},{"year":2020,"month":12,"date":31,"utc":true},{"year":2021,"month":12,"date":31,"utc":true},{"year":2022,"month":12,"date":31,"utc":true}],
     "format":"%Y/%m/%d","labelAngle":-45,"labelFont":"DejaVu Sans Mono","labelFontSize":13,"labelColor":"#595959","labelFlush":false,"labelOverlap":false,"labelPadding":8,"grid":false,"domainColor":"#D9D9D9","tickColor":"#D9D9D9","tickSize":5}},
    "y":{"field":"g","type":"quantitative","scale":{"domain":[0,1],"nice":false},
     "axis":{"orient":"right","title":null,"values":[0,0.1,0.2,0.3,0.4,0.5,0.6,0.7,0.8,0.9,1],"format":".1~f","grid":false,"domain":false,"ticks":false,"labelFont":"DejaVu Sans Mono","labelFontSize":12.5,"labelColor":"#595959","labelPadding":10}},
    "color":{"datum":"概率>50%","type":"nominal","scale":{"domain":["中国股基指数","后续1年指数低于当前的概率","概率>50%"],"range":["#FF0000","#2F5597","#92D050"]}}
   }}
 ]}
],
"resolve":{"scale":{"y":"independent"}}
}
